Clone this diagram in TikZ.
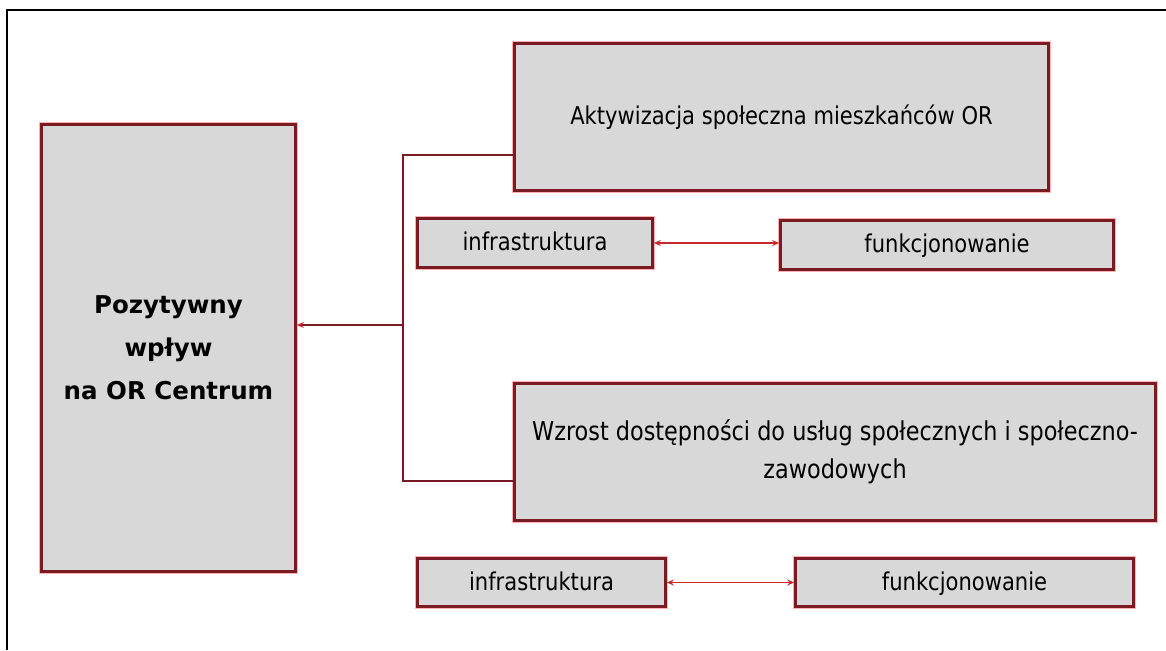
\documentclass[tikz,border=0pt]{standalone}
\usepackage{fontspec}
\setmainfont{DejaVu Sans}
\newfontfamily\waski{DejaVu Sans}[FakeStretch=0.86]
\usetikzlibrary{arrows.meta,calc}

\definecolor{ramka}{RGB}{122,26,34}
\definecolor{tlo}{RGB}{216,216,216}
\definecolor{strz}{RGB}{200,40,45}

\begin{document}
\begin{tikzpicture}[%
    x=1pt, y=-1pt,              % pixel-like units, y grows downwards
    blok/.style={draw=ramka, fill=tlo, line width=2.6pt, inner sep=0pt,
        preaction={draw=red!30, line width=4.6pt},
        align=center, font=\waski\fontsize{24.5}{38}\selectfont},
    lacz/.style={draw=ramka, line width=1.3pt},
    dwu/.style={draw=strz, line width=1.3pt, {Stealth[length=7pt,width=6pt]}-{Stealth[length=7pt,width=6pt]}}
    ]

    \useasboundingbox (0,0) rectangle (1166,650);
    \draw [line width=1.6pt] (7,650) -- (7,10) -- (1166,10);   % frame cut by the page

    \node at (168.5,348) [blok, minimum width=254, minimum height=447,
        font=\bfseries\fontsize{24.5}{43}\selectfont] (wplyw) {Pozytywny\\wpływ\\na OR Centrum};

    \node at (781.5,117) [blok, minimum width=534, minimum height=147] (akt) {Aktywizacja społeczna mieszkańców OR};
    \node at (535,243) [blok, minimum width=235, minimum height=49, text depth=3pt] (inf1) {infrastruktura};
    \node at (947,245) [blok, minimum width=333, minimum height=49, text depth=3pt] (fun1) {funkcjonowanie};
        \draw [dwu] (inf1.east) -- (inf1.east -| fun1.west);

    \node at (835,452) [blok, minimum width=641, minimum height=137,
        font=\waski\fontsize{26}{38}\selectfont] (wzr) {Wzrost dostępności do usług społecznych i społeczno-\\zawodowych};
    \node at (541.5,582.5) [blok, minimum width=248, minimum height=48, text depth=3pt] (inf2) {infrastruktura};
    \node at (964.5,582.5) [blok, minimum width=338, minimum height=48, text depth=3pt] (fun2) {funkcjonowanie};
        \draw [dwu] (inf2.east) -- (inf2.east -| fun2.west);

    % connector on the left
    \coordinate (g) at (403,155);
    \coordinate (d) at (403,481);
    \coordinate (s) at (403,325);
    \draw [lacz] (g -| akt.west) -- (g) -- (d) -- (d -| wzr.west);
    \draw [lacz, -{Stealth[length=7pt,width=6pt,color=strz]}] (s) -- (s -| wplyw.east);
\end{tikzpicture}
\end{document}
